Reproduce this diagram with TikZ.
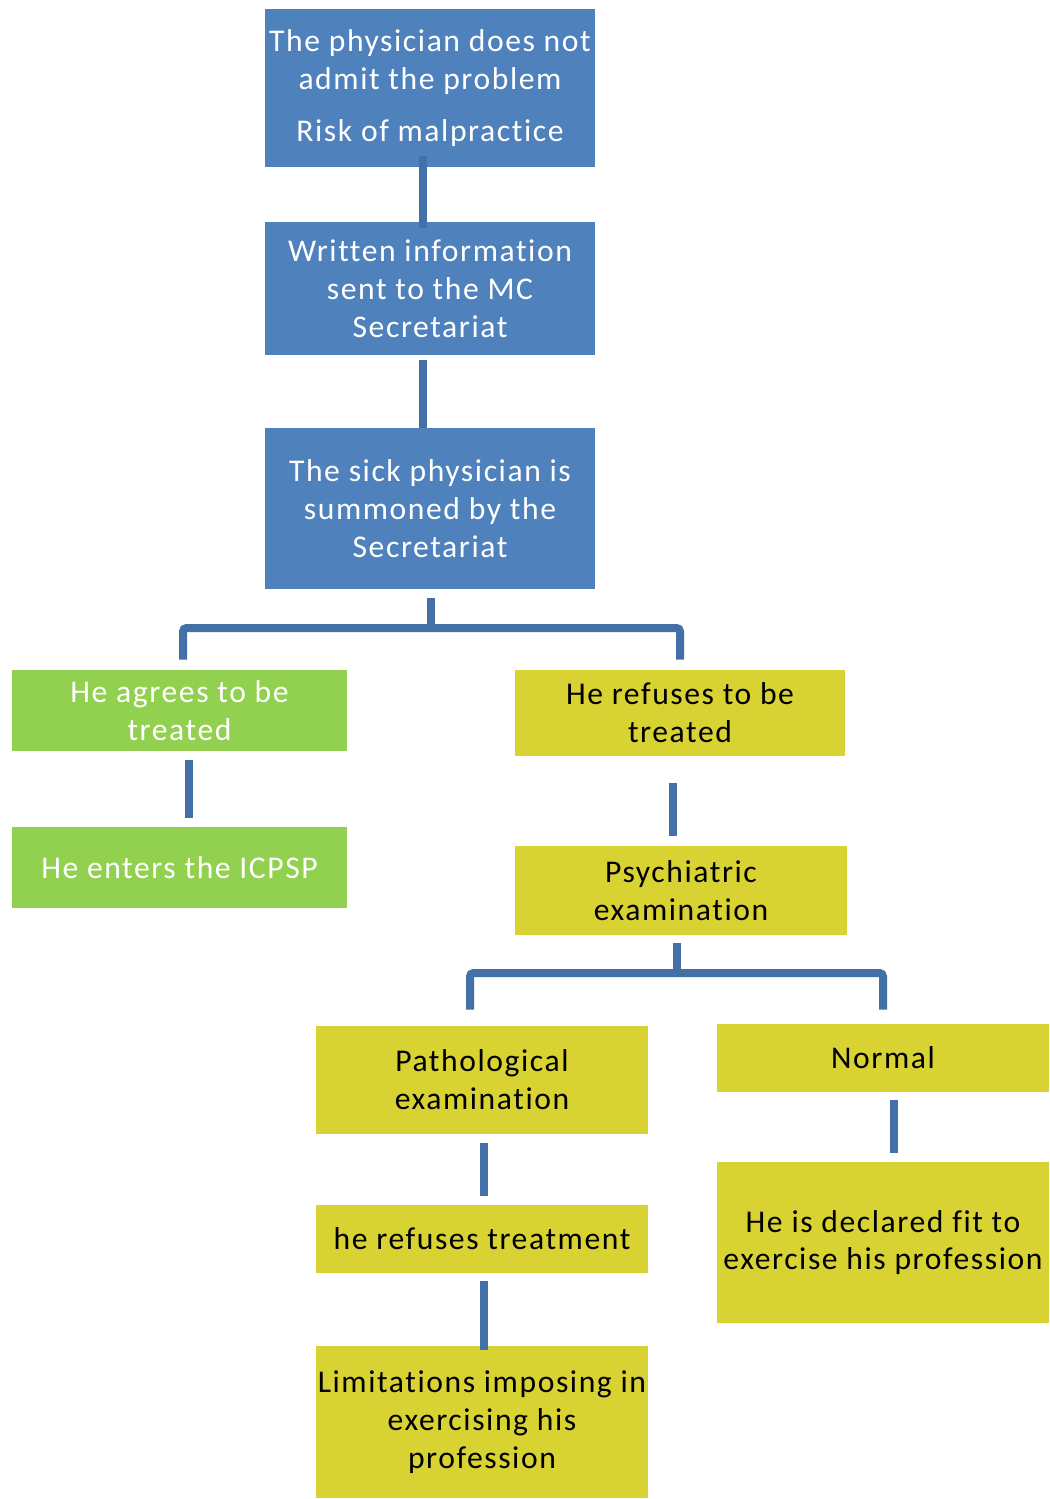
\documentclass[tikz,border=0pt]{standalone}
\usepackage{fontspec}
\setmainfont[LetterSpace=5, Ligatures=CommonOff]{Carlito}
\definecolor{boxblue}{HTML}{4F81BD}
\definecolor{boxgreen}{HTML}{92D050}
\definecolor{boxyellow}{HTML}{D8D233}
\definecolor{linkblue}{HTML}{4470A8}
\tikzset{every node/.style={align=center, font=\fontsize{18}{21.5}\selectfont, inner sep=0pt}}
\tikzset{bluebox/.style={fill=boxblue, text=white, minimum width=6.6cm}}
\tikzset{greenbox/.style={fill=boxgreen, text=white, minimum width=6.7cm}}
\tikzset{yellowbox/.style={fill=boxyellow, text=black, minimum width=6.64cm}}
\tikzset{link/.style={draw=linkblue, line width=0.16cm, rounded corners=2pt}}

\begin{document}
\begin{tikzpicture}[x=0.02cm, y=-0.02cm] % pixel grid of the reference
\useasboundingbox (0,0) rectangle (1050,1499);
% the sick physician path
\node[bluebox, minimum height=3.16cm] (admit) at (430,88) {The physician does not\\admit the  problem\\[0.28cm]Risk of malpractice};
\node[bluebox, minimum height=2.66cm] (written) at (430,288.5) {Written information\\sent to the MC\\Secretariat};
\node[bluebox, minimum height=3.22cm] (summoned) at (430,508.5) {The sick physician is\\summoned by the\\Secretariat};
% he agrees
\node[greenbox, minimum height=1.62cm] (agrees) at (179.5,710.5) {He agrees to be\\treated};
\node[greenbox, minimum height=1.62cm] (icpsp) at (179.5,867.5) {He enters the ICPSP};
% he refuses
\node[yellowbox, minimum width=6.6cm, minimum height=1.72cm] (refuses) at (680,713) {He refuses to be\\treated};
\node[yellowbox, minimum height=1.78cm] (psych) at (681,890.5) {Psychiatric\\examination};
\node[yellowbox, minimum height=2.16cm] (patho) at (482,1080) {Pathological\\examination};
\node[yellowbox, minimum height=1.36cm] (refusetreat) at (482,1239) {he refuses treatment};
\node[yellowbox, minimum height=3.04cm] (limits) at (482,1422) {Limitations imposing in\\exercising his\\profession};
\node[yellowbox, minimum height=1.36cm] (normal) at (883,1058) {Normal};
\node[yellowbox, minimum height=3.22cm] (fit) at (883,1242.5) {He is declared fit to\\exercise his profession};
% junctions of the two forks
\coordinate (fork1) at (431,628);
\coordinate (fork2) at (677,973);

\draw[link, shorten <=-0.22cm, shorten >=-0.12cm] ([xshift=-0.14cm]admit.south) -- ([xshift=-0.14cm]written.north);
\draw[link, shorten <=0.1cm] ([xshift=-0.14cm]written.south) -- ([xshift=-0.14cm]summoned.north);
\draw[link, shorten <=0.18cm] (summoned.south -| fork1) -- (fork1);
\draw[link, shorten >=0.2cm] (fork1) -| ([xshift=0.07cm]agrees.north);
\draw[link, shorten >=0.2cm] (fork1) -| (refuses.north);
\draw[link, shorten <=0.18cm, shorten >=0.18cm] ([xshift=0.19cm]agrees.south) -- ([xshift=0.19cm]icpsp.north);
\draw[link, shorten <=0.54cm, shorten >=0.2cm] ([xshift=-0.14cm]refuses.south) -- ([xshift=-0.14cm]refuses.south |- psych.north);
\draw[link, shorten <=0.16cm] (psych.south -| fork2) -- (fork2);
\draw[link, shorten >=0.32cm] (fork2) -| ([xshift=-0.24cm]patho.north);
\draw[link, shorten >=0.28cm] (fork2) -| (normal.north);
\draw[link, shorten <=0.18cm, shorten >=0.18cm] ([xshift=0.04cm]patho.south) -- ([xshift=0.04cm]refusetreat.north);
\draw[link, shorten <=0.16cm, shorten >=-0.08cm] ([xshift=0.04cm]refusetreat.south) -- ([xshift=0.04cm]limits.north);
\draw[link, shorten <=0.16cm, shorten >=0.18cm] ([xshift=0.22cm]normal.south) -- ([xshift=0.22cm]fit.north);
\end{tikzpicture}
\end{document}
